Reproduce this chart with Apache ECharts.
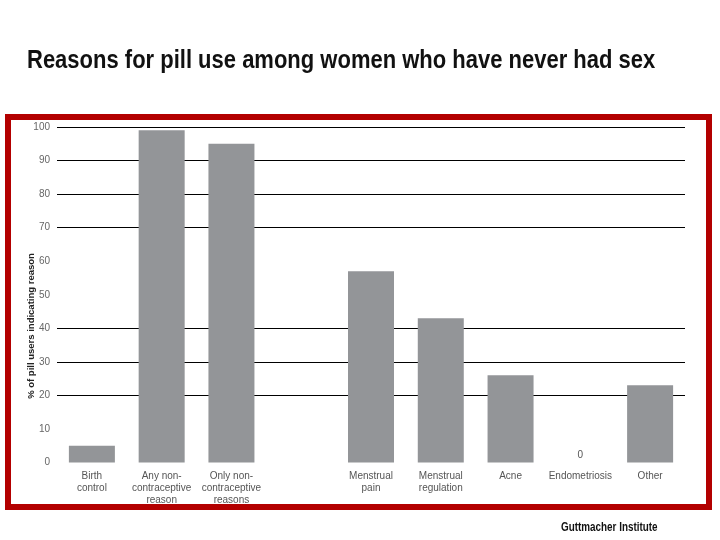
<!DOCTYPE html>
<html>
<head>
<meta charset="utf-8">
<script src="https://cdn.jsdelivr.net/npm/echarts@6/dist/echarts.min.js"></script>
<style>html,body{margin:0;padding:0;background:#fff;}#c{width:720px;height:540px;}</style>
</head>
<body>
<div id="c"></div>
<script>
const categories = ['Birth\ncontrol', 'Any non-\ncontraceptive\nreason', 'Only non-\ncontraceptive\nreasons', '', 'Menstrual\npain', 'Menstrual\nregulation', 'Acne', 'Endometriosis', 'Other'];
const values = [5, 99, 95, null, 57, 43, 26, 0, 23];
const yTicks = [0, 10, 20, 30, 40, 50, 60, 70, 80, 90, 100];
const gridValues = [20, 30, 40, 70, 80, 90, 100];
const titleText = 'Reasons for pill use among women who have never had sex';
const yAxisName = '% of pill users indicating reason';
const sourceText = 'Guttmacher Institute';

const splitColors = yTicks.map(t => gridValues.indexOf(t) >= 0 ? '#000' : 'rgba(0,0,0,0)');

const chart = echarts.init(document.getElementById('c'));
chart.setOption({
  animation: false,
  backgroundColor: '#fff',
  grid: { left: 57, right: 35, top: 127, bottom: 77.5 },
  xAxis: {
    type: 'category',
    data: categories,
    axisLine: { show: false },
    axisTick: { show: false },
    axisLabel: { interval: 0, color: '#555', fontSize: 10, lineHeight: 12, margin: 8, fontFamily: 'Liberation Sans' }
  },
  yAxis: {
    type: 'value',
    min: 0, max: 100, interval: 10,
    axisLine: { show: false },
    axisTick: { show: false },
    axisLabel: { color: '#666', fontSize: 10, margin: 7, fontFamily: 'Liberation Sans' },
    splitLine: { show: true, lineStyle: { color: splitColors, width: 1 } }
  },
  series: [{
    type: 'bar',
    barWidth: 46,
    itemStyle: { color: '#939598' },
    label: { show: false },
    data: values.map(v => v === 0 ? { value: 0, label: { show: true, position: 'top', distance: 2, color: '#555', fontSize: 10, fontFamily: 'Liberation Sans' } } : v)
  }],
  graphic: [
    {
      type: 'text',
      x: 27, y: 61,
      scaleX: 0.846,
      style: { text: titleText, font: 'bold 26px "Liberation Sans"', fill: '#111', align: 'left', verticalAlign: 'middle' }
    },
    {
      type: 'text',
      x: 31, y: 326,
      rotation: Math.PI / 2,
      style: { text: yAxisName, font: 'bold 9.5px "Liberation Sans"', fill: '#222', align: 'center', verticalAlign: 'middle' }
    },
    {
      type: 'text',
      x: 561, y: 527,
      scaleX: 0.76,
      style: { text: sourceText, font: 'bold 13px "Liberation Sans"', fill: '#111', align: 'left', verticalAlign: 'middle' }
    },
    {
      type: 'rect',
      z: 100,
      shape: { x: 8, y: 117, width: 701, height: 390 },
      style: { fill: 'none', stroke: '#b30000', lineWidth: 6 }
    }
  ]
});
</script>
</body>
</html>
